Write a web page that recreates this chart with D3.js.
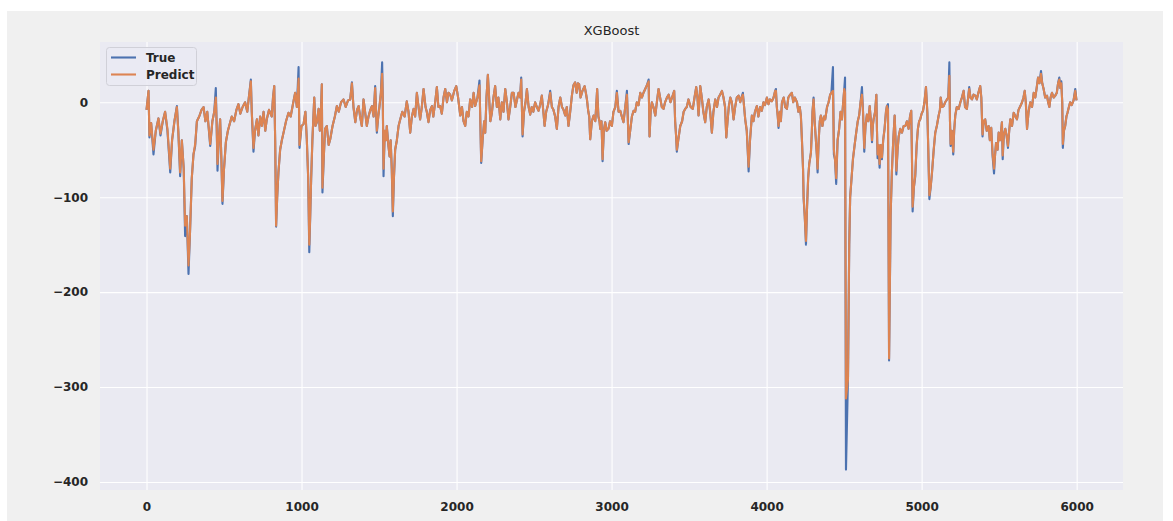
<!DOCTYPE html>
<html>
<head>
<meta charset="utf-8">
<script src="https://cdn.jsdelivr.net/npm/d3@7"></script>
<style>
html,body{margin:0;padding:0;background:#ffffff;}
svg{display:block;}
text{font-family:"DejaVu Sans",sans-serif;}
</style>
</head>
<body>
<svg id="chart" width="1173" height="521"></svg>
<script>
const title = "XGBoost";
const seriesNames = ["True", "Predict"];
const xTicks = [0, 1000, 2000, 3000, 4000, 5000, 6000];
const yTicks = [0, -100, -200, -300, -400];

const idx = [0,13,19,30,45,60,77,90,105,120,135,153,165,180,196,205,217,228,240,249,260,271,280,292,303,314,325,340,355,368,380,392,411,425,437,447,452,458,466,475,483,490,500,512,525,538,550,565,580,593,605,620,636,650,660,673,679,690,700,712,722,733,744,755,766,776,790,808,816,824,830,836,843,851,862,873,884,900,916,930,948,959,970,981,987,1000,1013,1025,1034,1043,1050,1056,1062,1070,1082,1090,1099,1110,1118,1125,1131,1135,1143,1152,1163,1175,1185,1200,1215,1228,1240,1255,1271,1285,1300,1314,1325,1335,1347,1358,1368,1378,1389,1400,1410,1421,1432,1444,1454,1465,1475,1486,1495,1503,1512,1520,1524,1529,1537,1545,1550,1560,1568,1575,1582,1589,1596,1604,1615,1626,1637,1650,1665,1679,1690,1701,1712,1723,1733,1744,1755,1765,1776,1787,1800,1808,1819,1830,1841,1850,1862,1873,1883,1894,1905,1916,1927,1938,1948,1959,1970,1985,1998,2010,2024,2035,2045,2056,2066,2077,2088,2100,2110,2120,2135,2148,2152,2159,2168,2178,2185,2193,2202,2210,2218,2228,2238,2249,2260,2270,2282,2292,2303,2314,2325,2335,2346,2357,2368,2380,2390,2400,2410,2417,2426,2435,2445,2454,2465,2475,2485,2495,2507,2518,2529,2540,2550,2560,2568,2578,2590,2604,2615,2625,2636,2647,2658,2669,2680,2690,2701,2711,2722,2733,2744,2754,2765,2775,2783,2791,2800,2812,2826,2834,2841,2850,2856,2862,2873,2884,2895,2907,2915,2922,2927,2935,2942,2950,2959,2968,2980,2990,3002,3012,3024,3034,3045,3056,3066,3077,3088,3099,3110,3120,3131,3142,3152,3163,3174,3185,3196,3206,3217,3228,3239,3245,3252,3260,3270,3282,3292,3303,3313,3324,3335,3345,3357,3368,3380,3390,3404,3410,3416,3421,3430,3443,3455,3465,3475,3485,3496,3510,3524,3535,3546,3554,3561,3572,3582,3592,3604,3614,3626,3636,3647,3657,3669,3680,3690,3700,3712,3722,3732,3740,3748,3756,3766,3776,3787,3797,3808,3819,3830,3838,3847,3855,3862,3872,3878,3884,3893,3905,3915,3925,3937,3947,3958,3969,3980,3990,4002,4012,4022,4034,4045,4055,4060,4066,4072,4077,4085,4092,4099,4110,4120,4131,4140,4152,4163,4172,4182,4196,4205,4214,4221,4228,4235,4239,4246,4254,4261,4268,4275,4286,4292,4296,4303,4310,4318,4324,4329,4336,4343,4350,4360,4370,4378,4390,4400,4410,4418,4428,4434,4441,4449,4458,4468,4477,4486,4494,4501,4506,4512,4525,4533,4539,4548,4557,4568,4578,4588,4597,4606,4615,4622,4630,4638,4647,4656,4665,4673,4680,4685,4690,4700,4708,4712,4716,4722,4729,4736,4744,4752,4761,4770,4776,4783,4790,4800,4808,4817,4826,4832,4837,4845,4852,4862,4873,4884,4895,4905,4916,4925,4933,4937,4942,4950,4959,4968,4976,4984,4991,5000,5009,5018,5028,5037,5043,5050,5058,5067,5078,5088,5098,5110,5118,5123,5132,5142,5152,5164,5172,5179,5183,5187,5195,5204,5210,5217,5227,5239,5250,5260,5271,5280,5292,5300,5307,5315,5325,5335,5346,5356,5366,5378,5385,5393,5400,5410,5420,5432,5440,5449,5458,5467,5474,5480,5490,5497,5507,5518,5523,5530,5540,5548,5557,5565,5572,5583,5594,5605,5615,5625,5637,5648,5657,5665,5672,5680,5690,5701,5712,5723,5733,5742,5751,5760,5770,5778,5787,5797,5809,5816,5824,5832,5841,5852,5862,5872,5880,5888,5895,5901,5907,5911,5918,5926,5934,5941,5950,5958,5968,5980,5991,5999];

const trueVals = [-8,12,-37,-22,-55,-30,-17,-35,-20,-10,-30,-74,-40,-20,-4,-30,-78,-40,-70,-141,-120,-181,-140,-80,-55,-46,-20,-15,-8,-5,-20,-10,-46,-20,-10,15,-20,-72,-40,-18,-60,-107,-70,-42,-30,-22,-15,-20,-8,-2,-12,-5,0,-10,5,24,-10,-52,-30,-18,-35,-15,-25,-10,-30,-18,-8,-15,5,17,-40,-131,-100,-74,-50,-40,-32,-20,-11,-15,1,10,-5,37,-48,-25,-23,-10,-39,-80,-158,-120,-81,-40,5,-25,-21,-7,-30,-10,19,-95,-60,-28,-25,-45,-39,-25,-15,-4,-10,0,3,-5,2,3,21,-5,-21,-8,-4,-15,-25,3,-10,-25,-15,-8,-4,-15,17,-32,-15,-4,10,42,5,-78,-30,-40,-25,-45,-57,-40,-70,-120,-80,-50,-40,-25,-18,-10,-15,1,-10,-32,-15,-7,-15,10,-5,-18,-5,14,-5,-10,-21,-8,-4,-15,0,16,-5,-4,-12,5,14,0,10,8,2,12,17,5,-14,-5,-20,-25,-10,-15,3,-5,10,-4,5,23,-10,-64,-40,-20,-32,5,29,5,-20,-11,5,17,-5,5,-18,0,-10,14,0,-18,-5,10,10,-5,3,10,5,26,-36,-10,0,14,-5,-13,-5,-10,0,-5,-9,-2,7,-10,-25,-10,-3,12,-5,-8,-15,-28,-5,5,-5,-8,-14,-5,-25,-10,7,18,21,10,20,19,5,12,17,10,3,-10,-15,-39,-20,-14,-20,14,-15,-20,-28,-20,-62,-30,-21,-30,-28,-20,-25,-10,-5,12,-10,-9,-15,-21,-5,12,-44,-30,-15,-9,-10,0,-3,10,5,10,14,18,24,-36,-10,0,-5,-14,0,14,5,-5,-7,0,5,8,0,5,12,-20,-35,-52,-40,-25,-20,-10,-7,-5,3,-5,-7,5,16,5,-14,17,5,-10,-21,-5,3,-10,-32,-10,3,-5,5,8,12,5,-5,-37,-20,-5,5,0,-18,-5,5,7,0,5,10,-5,-18,-30,-50,-73,-40,-14,-20,-10,-4,-15,-5,-9,0,-3,5,-2,3,1,5,12,14,-5,-15,-27,-10,-20,0,5,-5,-7,5,8,10,0,5,0,-10,-5,-14,-40,-70,-102,-120,-150,-110,-80,-65,-53,-30,-10,5,-20,-40,-55,-74,-40,-20,-14,-25,-15,-18,-5,0,8,10,37,-55,-60,-86,-40,-28,-10,-18,0,14,26,-387,-290,-150,-100,-80,-60,-45,-32,-20,-14,0,16,-10,-52,-25,-13,-20,-4,-20,-42,-25,-18,-10,8,-30,-59,-45,-69,-45,-60,-40,-28,-10,-4,-2,-272,-120,-74,-40,-14,-40,-76,-50,-36,-28,-32,-25,-25,-20,-28,-15,-9,-50,-115,-90,-78,-45,-28,-20,-18,-12,-9,0,16,-11,-50,-102,-90,-74,-50,-32,-25,-14,-8,5,-5,-4,0,3,5,42,-20,-46,-30,-55,-30,-14,-5,-7,0,5,12,-5,-7,5,16,5,3,8,7,3,10,17,5,-36,-20,-18,-30,-25,-40,-27,-57,-75,-55,-43,-50,-32,-40,-21,-60,-35,-28,-35,-48,-30,-18,-25,-11,-15,-18,-8,-4,0,5,12,0,-28,-10,0,-5,10,5,15,26,20,33,20,14,5,7,0,-5,5,10,5,7,10,20,26,15,22,0,-48,-30,-25,-15,-11,-5,0,-3,2,14,2];

const predVals = [-8,12,-35,-22,-50,-30,-17,-33,-20,-10,-28,-70,-40,-20,-5,-30,-74,-40,-70,-130,-120,-172,-140,-80,-55,-44,-20,-15,-8,-5,-20,-10,-44,-20,-10,5,-20,-65,-40,-18,-60,-104,-70,-42,-30,-22,-15,-20,-8,-2,-12,-5,0,-10,5,22,-10,-48,-30,-18,-35,-15,-25,-10,-30,-18,-8,-15,5,17,-40,-130,-100,-74,-50,-40,-32,-20,-11,-15,1,10,-5,25,-45,-25,-23,-10,-39,-80,-150,-120,-81,-40,5,-25,-21,-7,-30,-10,19,-90,-60,-28,-25,-45,-39,-25,-15,-4,-10,0,3,-5,2,3,20,-5,-21,-8,-4,-15,-25,3,-10,-25,-15,-8,-4,-15,15,-30,-15,-4,10,30,5,-70,-30,-40,-25,-45,-57,-40,-70,-115,-80,-50,-40,-25,-18,-10,-15,1,-10,-32,-15,-7,-15,10,-5,-18,-5,14,-5,-10,-21,-8,-4,-15,0,16,-5,-4,-12,5,14,0,10,8,2,12,17,5,-14,-5,-20,-25,-10,-15,3,-5,10,-4,5,18,-10,-62,-40,-20,-32,5,29,5,-20,-11,5,17,-5,5,-18,0,-10,14,0,-18,-5,10,10,-5,3,10,5,24,-34,-10,0,14,-5,-13,-5,-10,0,-5,-9,-2,7,-10,-25,-10,-3,10,-5,-8,-15,-28,-5,5,-5,-8,-14,-5,-25,-10,7,18,21,10,20,19,5,12,17,10,3,-10,-15,-39,-20,-14,-20,14,-15,-20,-28,-20,-60,-30,-21,-30,-28,-20,-25,-10,-5,10,-10,-9,-15,-21,-5,8,-42,-30,-15,-9,-10,0,-3,10,5,10,14,18,22,-36,-10,0,-5,-14,0,14,5,-5,-7,0,5,8,0,5,12,-20,-35,-50,-40,-25,-20,-10,-7,-5,3,-5,-7,5,16,5,-14,17,5,-10,-21,-5,3,-10,-32,-10,3,-5,5,8,12,5,-5,-37,-20,-5,5,0,-18,-5,5,7,0,5,8,-5,-18,-30,-50,-68,-40,-14,-20,-10,-4,-15,-5,-9,0,-3,5,-2,3,1,5,12,12,-5,-15,-25,-10,-20,0,5,-5,-7,5,8,10,0,5,0,-10,-5,-14,-40,-70,-100,-120,-146,-110,-80,-65,-53,-30,-10,3,-20,-40,-55,-70,-40,-20,-14,-25,-15,-18,-5,0,8,10,12,-50,-60,-80,-40,-28,-10,-18,0,14,10,-312,-292,-150,-100,-80,-60,-45,-32,-20,-14,0,8,-10,-48,-25,-13,-20,-4,-20,-40,-25,-18,-10,8,-30,-55,-45,-65,-45,-58,-40,-28,-10,-4,-8,-270,-120,-74,-40,-14,-40,-72,-50,-36,-28,-32,-25,-25,-20,-28,-15,-9,-50,-110,-90,-76,-45,-28,-20,-18,-12,-9,0,16,-11,-50,-98,-90,-74,-50,-32,-25,-14,-8,5,-5,-4,0,3,5,28,-20,-44,-30,-52,-30,-14,-5,-7,0,5,12,-5,-7,5,14,5,3,8,7,3,10,17,5,-34,-20,-18,-30,-25,-40,-27,-55,-70,-55,-43,-50,-32,-40,-21,-56,-35,-28,-35,-46,-30,-18,-25,-11,-15,-18,-8,-4,0,5,12,0,-28,-10,0,-5,10,5,15,26,20,30,20,14,5,7,0,-5,5,10,5,7,10,20,24,15,20,0,-44,-30,-25,-15,-11,-5,0,-3,2,12,2];

const colors = ["#4c72b0", "#dd8452"];

const svg = d3.select("#chart");
const m = {left: 100, right: 1123, top: 42, bottom: 490};

// figure background
svg.append("rect").attr("x", 7).attr("y", 11).attr("width", 1156).attr("height", 510).attr("fill", "#f0f0f0");
// axes background
svg.append("rect").attr("x", m.left).attr("y", m.top).attr("width", m.right - m.left).attr("height", m.bottom - m.top).attr("fill", "#eaeaf2");

const x = d3.scaleLinear().domain([-300, 6299]).range([m.left, m.right]);
const y = d3.scaleLinear().domain([-408.5, 63.5]).range([m.bottom, m.top]);

const fmt = d => d < 0 ? "\u2212" + Math.abs(d) : String(d);

const gx = svg.append("g").attr("transform", `translate(0,${m.bottom})`)
  .call(d3.axisBottom(x).tickValues(xTicks).tickSize(-(m.bottom - m.top)).tickPadding(12).tickFormat(fmt));
const gy = svg.append("g").attr("transform", `translate(${m.left},0)`)
  .call(d3.axisLeft(y).tickValues(yTicks).tickSize(-(m.right - m.left)).tickPadding(12).tickFormat(fmt));
[gx, gy].forEach(g => {
  g.select(".domain").remove();
  g.selectAll(".tick line").attr("stroke", "#ffffff").attr("stroke-width", 1.1);
  g.selectAll(".tick text").attr("fill", "#262626").attr("font-size", 12).attr("font-weight", "bold")
    .attr("font-family", "DejaVu Sans, sans-serif");
});

svg.append("clipPath").attr("id", "clip").append("rect")
  .attr("x", m.left).attr("y", m.top).attr("width", m.right - m.left).attr("height", m.bottom - m.top);

const line = vals => d3.line().x((d, i) => x(idx[i])).y(d => y(d))(vals);

svg.append("path").attr("d", line(trueVals)).attr("fill", "none").attr("stroke", colors[0])
  .attr("stroke-width", 2.1).attr("stroke-linejoin", "round").attr("clip-path", "url(#clip)");
svg.append("path").attr("d", line(predVals)).attr("fill", "none").attr("stroke", colors[1])
  .attr("stroke-width", 2.1).attr("stroke-linejoin", "round").attr("clip-path", "url(#clip)");

svg.append("text").attr("x", (m.left + m.right) / 2).attr("y", 35).attr("text-anchor", "middle")
  .attr("font-size", 13).attr("fill", "#262626").text(title);

const lg = svg.append("g");
lg.append("rect").attr("x", 106.5).attr("y", 47.5).attr("width", 90).attr("height", 38).attr("rx", 3)
  .attr("fill", "#eaeaf2").attr("fill-opacity", 0.8).attr("stroke", "#d0d0d8");
seriesNames.forEach((n, i) => {
  const yy = 57.5 + i * 17;
  lg.append("line").attr("x1", 111).attr("x2", 136).attr("y1", yy).attr("y2", yy)
    .attr("stroke", colors[i]).attr("stroke-width", 2.1);
  lg.append("text").attr("x", 146).attr("y", yy + 4.3).attr("font-size", 12).attr("font-weight", "bold")
    .attr("fill", "#262626").text(n);
});
</script>
</body>
</html>
